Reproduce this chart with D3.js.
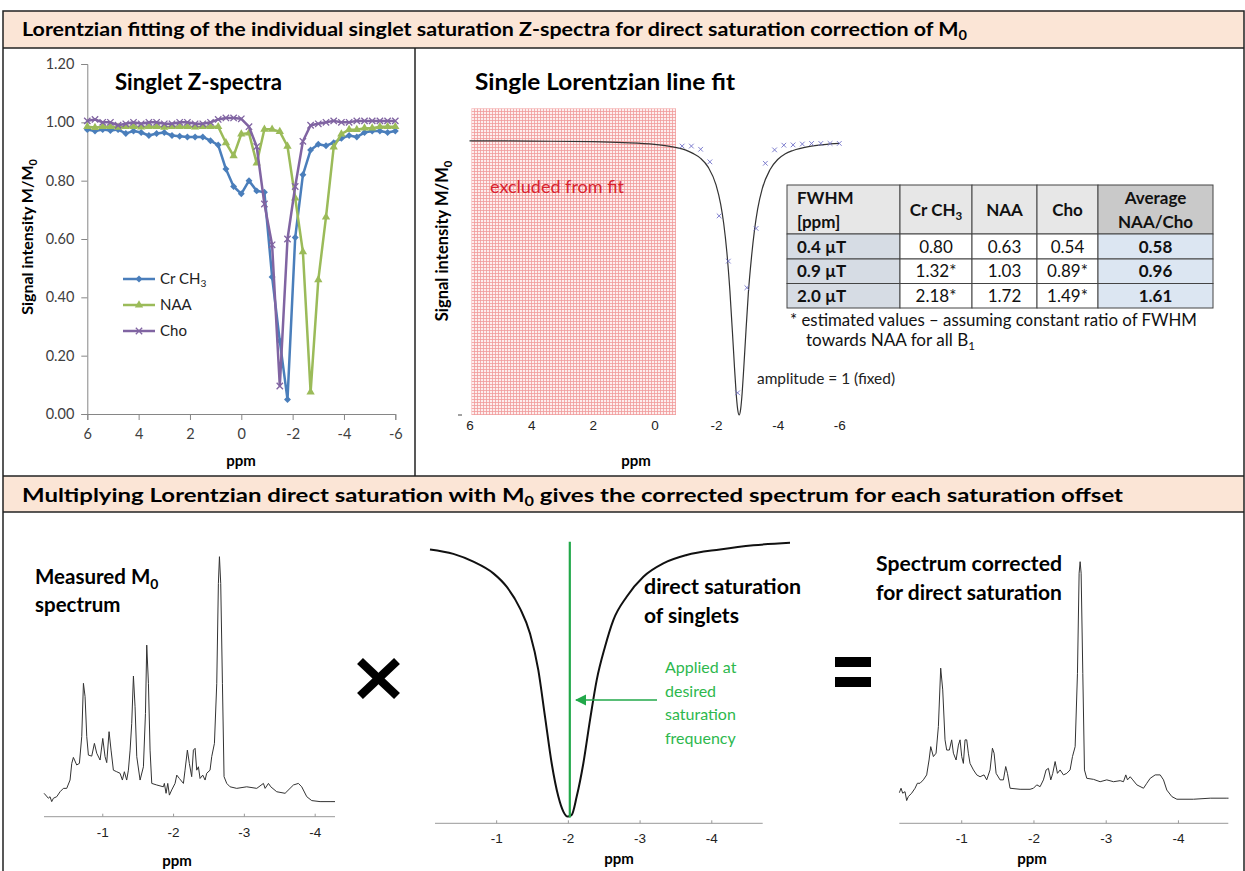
<!DOCTYPE html>
<html><head><meta charset="utf-8">
<script src="https://cdn.jsdelivr.net/npm/d3@7"></script>
<style>body{margin:0;background:#fff}svg{display:block}</style>
</head><body>
<svg id="c" width="1245" height="871"></svg>
<script>
// ---------- DATA ----------
const zPpm = [6,5.7,5.4,5.1,4.8,4.5,4.2,3.9,3.6,3.3,3,2.7,2.4,2.1,1.8,1.5,1.2,0.9,0.6,0.3,0,-0.3,-0.6,-0.9,-1.2,-1.5,-1.8,-2.1,-2.4,-2.7,-3,-3.3,-3.6,-3.9,-4.2,-4.5,-4.8,-5.1,-5.4,-5.7,-6];
const crValues = [0.975,0.970,0.975,0.972,0.975,0.962,0.970,0.965,0.955,0.962,0.965,0.955,0.952,0.950,0.950,0.950,0.937,0.922,0.84,0.78,0.755,0.80,0.765,0.76,0.47,0.25,0.05,0.605,0.82,0.905,0.925,0.92,0.93,0.945,0.955,0.95,0.965,0.97,0.97,0.965,0.97];
const naaValues = [0.985,0.982,0.985,0.985,0.983,0.985,0.985,0.984,0.985,0.985,0.983,0.985,0.985,0.985,0.984,0.985,0.985,0.985,0.93,0.885,0.96,0.963,0.86,0.976,0.976,0.968,0.918,0.74,0.556,0.075,0.46,0.675,0.915,0.96,0.975,0.975,0.98,0.98,0.985,0.985,0.985];
const choValues = [1.005,1.01,1.0,1.0,0.99,0.995,1.0,0.995,1.0,1.0,0.995,0.995,1.0,1.0,0.995,0.995,1.0,1.01,1.015,1.015,1.012,0.985,0.917,0.72,0.58,0.096,0.60,0.78,0.935,0.99,0.995,1.0,1.005,1.0,1.0,1.005,1.005,1.005,1.005,1.005,1.005];
const zYTicks = [0,0.2,0.4,0.6,0.8,1.0,1.2];
const zXTicks = [6,4,2,0,-2,-4,-6];
const legendNames = ["Cr CH3","NAA","Cho"];

// single Lorentzian fit
const fitPpm = [6,4,2,1,0,-0.5,-1,-1.25,-1.5,-1.75,-2,-2.15,-2.25,-2.35,-2.45,-2.55,-2.6,-2.65,-2.7,-2.75,-2.8,-2.85,-2.9,-2.95,-3.05,-3.15,-3.25,-3.35,-3.5,-3.75,-4,-4.25,-4.5,-5,-5.5,-6];
const fitVal = [0.939,0.938,0.936,0.933,0.927,0.920,0.908,0.896,0.879,0.848,0.788,0.722,0.655,0.559,0.425,0.252,0.161,0.079,0.021,0,0.021,0.079,0.161,0.25,0.42,0.54,0.635,0.705,0.775,0.84,0.875,0.895,0.906,0.919,0.926,0.93];
const fitDataPpm = [-0.9,-1.2,-1.5,-1.8,-2.1,-2.4,-2.7,-3.0,-3.3,-3.6,-3.9,-4.2,-4.5,-4.8,-5.1,-5.4,-5.7,-6.0];
const fitDataVal = [0.921,0.921,0.91,0.867,0.682,0.527,0.076,0.436,0.639,0.862,0.908,0.924,0.925,0.928,0.93,0.93,0.93,0.93];
const excludedRange = [6, -0.7];

// FWHM table
const tableCols = ["FWHM [ppm]","Cr CH3","NAA","Cho","Average NAA/Cho"];
const rowLabels = ["0.4 µT","0.9 µT","2.0 µT"];
const crFwhm = ["0.80","1.32*","2.18*"];
const naaFwhm = ["0.63","1.03","1.72"];
const choFwhm = ["0.54","0.89*","1.49*"];
const avgFwhm = ["0.58","0.96","1.61"];

// measured M0 spectrum
const m0Ppm = [-0.171,-0.232,-0.255,-0.279,-0.303,-0.350,-0.397,-0.444,-0.491,-0.538,-0.562,-0.585,-0.632,-0.670,-0.703,-0.727,-0.750,-0.774,-0.797,-0.844,-0.882,-0.915,-0.962,-1.000,-1.032,-1.056,-1.089,-1.117,-1.150,-1.197,-1.244,-1.277,-1.305,-1.338,-1.362,-1.386,-1.409,-1.433,-1.456,-1.480,-1.527,-1.574,-1.603,-1.621,-1.645,-1.668,-1.692,-1.762,-1.856,-1.870,-1.894,-1.918,-1.941,-1.974,-2.021,-2.045,-2.082,-2.139,-2.162,-2.195,-2.223,-2.256,-2.280,-2.304,-2.327,-2.351,-2.374,-2.412,-2.445,-2.468,-2.515,-2.539,-2.577,-2.610,-2.633,-2.648,-2.666,-2.690,-2.713,-2.751,-2.798,-2.892,-3.033,-3.175,-3.269,-3.293,-3.340,-3.373,-3.457,-3.575,-3.645,-3.693,-3.763,-3.810,-3.881,-3.951,-4.069,-4.210,-4.28];
const m0Int = [0.090,0.071,0.077,0.058,0.071,0.077,0.096,0.109,0.109,0.141,0.205,0.228,0.199,0.205,0.308,0.513,0.462,0.308,0.237,0.233,0.282,0.244,0.218,0.301,0.231,0.208,0.327,0.256,0.179,0.173,0.167,0.141,0.173,0.141,0.179,0.256,0.359,0.541,0.423,0.231,0.141,0.192,0.397,0.660,0.513,0.256,0.128,0.122,0.115,0.128,0.090,0.128,0.083,0.103,0.128,0.160,0.147,0.128,0.179,0.256,0.205,0.154,0.256,0.263,0.179,0.192,0.147,0.160,0.141,0.167,0.179,0.231,0.282,0.513,0.897,1.000,0.897,0.513,0.154,0.128,0.115,0.109,0.115,0.109,0.128,0.109,0.128,0.115,0.096,0.090,0.109,0.122,0.128,0.115,0.077,0.062,0.058,0.058,0.058];

// direct saturation Lorentzian
const dsPpm = [-0.070,-0.396,-0.675,-0.954,-1.139,-1.325,-1.465,-1.581,-1.674,-1.767,-1.860,-1.930,-1.990,-2.046,-2.116,-2.209,-2.302,-2.395,-2.511,-2.627,-2.813,-3.046,-3.324,-3.650,-4.115,-4.580,-5.091];
const dsVal = [0.966,0.950,0.922,0.880,0.832,0.754,0.664,0.532,0.365,0.197,0.077,0.023,0.005,0.011,0.077,0.197,0.353,0.496,0.616,0.712,0.796,0.868,0.916,0.946,0.966,0.981,0.990];
const satOffset = -2.02;

// corrected spectrum
const corrPpm = [-0.137,-0.160,-0.183,-0.215,-0.238,-0.261,-0.307,-0.354,-0.386,-0.423,-0.469,-0.515,-0.548,-0.571,-0.608,-0.645,-0.677,-0.709,-0.737,-0.769,-0.792,-0.829,-0.861,-0.885,-0.922,-0.954,-0.977,-1.000,-1.023,-1.046,-1.069,-1.092,-1.115,-1.162,-1.208,-1.254,-1.309,-1.346,-1.392,-1.425,-1.448,-1.476,-1.531,-1.577,-1.609,-1.633,-1.669,-1.808,-1.946,-1.993,-2.039,-2.085,-2.131,-2.168,-2.200,-2.233,-2.260,-2.293,-2.325,-2.362,-2.408,-2.454,-2.500,-2.533,-2.570,-2.602,-2.625,-2.639,-2.653,-2.676,-2.699,-2.731,-2.824,-2.916,-3.008,-3.101,-3.193,-3.239,-3.271,-3.295,-3.332,-3.368,-3.424,-3.516,-3.562,-3.609,-3.678,-3.747,-3.793,-3.839,-3.909,-3.978,-4.209,-4.440,-4.670,-4.693];
const corrInt = [0.117,0.134,0.115,0.121,0.087,0.102,0.115,0.134,0.153,0.153,0.166,0.185,0.242,0.293,0.255,0.268,0.370,0.593,0.510,0.319,0.280,0.280,0.319,0.268,0.242,0.299,0.319,0.255,0.229,0.319,0.319,0.268,0.229,0.204,0.185,0.178,0.185,0.166,0.204,0.287,0.268,0.191,0.166,0.166,0.217,0.191,0.134,0.130,0.130,0.134,0.147,0.140,0.166,0.204,0.210,0.166,0.191,0.236,0.191,0.204,0.185,0.191,0.204,0.255,0.293,0.573,0.956,1.000,0.956,0.573,0.204,0.172,0.168,0.159,0.166,0.159,0.163,0.159,0.185,0.166,0.178,0.166,0.147,0.134,0.153,0.172,0.185,0.185,0.166,0.127,0.102,0.092,0.092,0.096,0.096,0.096];
const specTicks = [-1,-2,-3,-4];

// ---------- DRAWING ----------
const svg = d3.select("#c");
const CAL = "Lato, 'Open Sans', sans-serif";
const ARI = "'Liberation Sans', Arial, sans-serif";

function rich(sel, parts, fs) {
  let shift = 0;
  parts.forEach(p => {
    const sub = Array.isArray(p);
    const ts = sel.append("tspan").text(sub ? p[0] : p);
    if (sub) { shift = fs * 0.22; ts.attr("font-size", fs * 0.68).attr("dy", shift); }
    else if (shift) { ts.attr("dy", -shift); shift = 0; }
  });
  return sel;
}
function label(x, y, parts, o = {}) {
  const fs = o.size || 14;
  const t = svg.append("text").attr("x", x).attr("y", y)
    .attr("font-family", o.font || CAL).attr("font-size", fs)
    .attr("font-weight", o.bold ? "bold" : "normal")
    .attr("fill", o.color || "#000")
    .attr("text-anchor", o.anchor || "start");
  if (o.rotate) t.attr("transform", `rotate(-90,${x},${y})`);
  if (o.len) t.attr("textLength", o.len).attr("lengthAdjust", "spacingAndGlyphs");
  rich(t, typeof parts === "string" ? [parts] : parts, fs);
  return t;
}
function subParts(s) {
  if (s === "Cr CH3") return ["Cr CH", ["3"]];
  return [s];
}

// ---- frames ----
svg.append("rect").attr("x", 3).attr("y", 11).attr("width", 1241).attr("height", 37).attr("fill", "#fbe5d6");
svg.append("rect").attr("x", 3).attr("y", 476).attr("width", 1241).attr("height", 36).attr("fill", "#fbe5d6");
const frame = svg.append("g").attr("stroke", "#222").attr("stroke-width", 1.5).attr("fill", "none");
frame.append("rect").attr("x", 3).attr("y", 11).attr("width", 1241).attr("height", 870);
frame.append("line").attr("x1", 3).attr("x2", 1244).attr("y1", 48).attr("y2", 48);
frame.append("line").attr("x1", 3).attr("x2", 1244).attr("y1", 476).attr("y2", 476);
frame.append("line").attr("x1", 3).attr("x2", 1244).attr("y1", 512).attr("y2", 512);
frame.append("line").attr("x1", 415).attr("x2", 415).attr("y1", 48).attr("y2", 476);

label(22, 36, ["Lorentzian fitting of the individual singlet saturation Z-spectra for direct saturation correction of M", ["0"]], {size: 19, bold: true, len: 945});
label(22, 502, ["Multiplying Lorentzian direct saturation with M", ["0"], " gives the corrected spectrum for each saturation offset"], {size: 19, bold: true, len: 1101});

// ---- Panel 1: Singlet Z-spectra ----
const xZ = d3.scaleLinear().domain([6, -6]).range([87.3, 395.3]);
const yZ = d3.scaleLinear().domain([0, 1.2]).range([414, 64]);
const gZx = svg.append("g").attr("transform", "translate(0,414)")
  .call(d3.axisBottom(xZ).tickValues(zXTicks).tickFormat(d => String(d)).tickSize(6).tickPadding(9));
const gZy = svg.append("g").attr("transform", "translate(87.3,0)")
  .call(d3.axisLeft(yZ).tickValues(zYTicks).tickFormat(d3.format(".2f")).tickSize(6).tickPadding(7));
[gZx, gZy].forEach(g => {
  g.selectAll("path,line").attr("stroke", "#868686");
  g.selectAll("text").attr("font-family", CAL).attr("font-size", 14.5).attr("fill", "#404040");
});
label(115, 90, "Singlet Z-spectra", {size: 22, bold: true, len: 167});
label(33, 237, ["Signal intensity M/M", ["0"]], {size: 16, bold: true, anchor: "middle", rotate: true});
label(241, 466, "ppm", {size: 15, bold: true, anchor: "middle"});

const series = [
  {name: legendNames[0], values: crValues, color: "#4a7ebb", sym: "diamond"},
  {name: legendNames[1], values: naaValues, color: "#9bbb59", sym: "triangle"},
  {name: legendNames[2], values: choValues, color: "#8064a2", sym: "x"}
];
function marker(g, sym, color, x, y) {
  if (sym === "diamond") g.append("path").attr("d", d3.symbol(d3.symbolSquare, 24)()).attr("transform", `translate(${x},${y}) rotate(45)`).attr("fill", color);
  else if (sym === "triangle") g.append("path").attr("d", d3.symbol(d3.symbolTriangle, 30)()).attr("transform", `translate(${x},${y})`).attr("fill", color);
  else g.append("path").attr("d", d3.symbol(d3.symbolX, 28)()).attr("transform", `translate(${x},${y})`).attr("fill", "none").attr("stroke", color).attr("stroke-width", 1.3);
}
const zLine = d3.line().x((d, i) => xZ(zPpm[i])).y(d => yZ(d));
series.forEach(s => {
  const g = svg.append("g");
  g.append("path").attr("d", zLine(s.values)).attr("fill", "none").attr("stroke", s.color).attr("stroke-width", 2.5).attr("stroke-linejoin", "round");
  s.values.forEach((v, i) => marker(g, s.sym, s.color, xZ(zPpm[i]), yZ(v)));
});
series.forEach((s, k) => {
  const y = 279 + k * 26;
  const g = svg.append("g");
  g.append("line").attr("x1", 123).attr("x2", 155).attr("y1", y).attr("y2", y).attr("stroke", s.color).attr("stroke-width", 2.5);
  marker(g, s.sym, s.color, 139, y);
  label(160, y + 5, subParts(s.name), {size: 15, color: "#222"});
});

// ---- Panel 2: Single Lorentzian line fit ----
const xF = d3.scaleLinear().domain([6, -6]).range([469.5, 839.3]);
const yF = d3.scaleLinear().domain([0, 1]).range([415, 123]);
const defs = svg.append("defs");
const pat = defs.append("pattern").attr("id", "hatch").attr("patternUnits", "userSpaceOnUse").attr("width", 3).attr("height", 3);
pat.append("rect").attr("width", 3).attr("height", 3).attr("fill", "#fdeeee");
pat.append("path").attr("d", "M0,0.5H3M0.5,0V3").attr("stroke", "#f09a9a").attr("stroke-width", 0.8);
svg.append("rect").attr("x", xF(excludedRange[0]) + 2).attr("y", yF(1.05))
  .attr("width", xF(excludedRange[1]) - xF(excludedRange[0]) - 2).attr("height", yF(0) - yF(1.05))
  .attr("fill", "url(#hatch)");
label(490, 193, "excluded from fit", {size: 18, color: "#d8232e"});
const gFx = svg.append("g").attr("transform", "translate(0,415)")
  .call(d3.axisBottom(xF).tickValues(zXTicks).tickFormat(d => String(d)).tickSize(0).tickPadding(5));
gFx.select(".domain").remove();
gFx.selectAll("text").attr("font-family", ARI).attr("font-size", 13.5).attr("fill", "#222");
svg.append("line").attr("x1", 458).attr("x2", 462).attr("y1", yF(0)).attr("y2", yF(0)).attr("stroke", "#444");
svg.append("path").datum(fitVal).attr("fill", "none").attr("stroke", "#333").attr("stroke-width", 1.2)
  .attr("d", d3.line().x((d, i) => xF(fitPpm[i])).y(d => yF(d)).curve(d3.curveMonotoneX));
fitDataVal.forEach((v, i) => {
  svg.append("path").attr("d", d3.symbol(d3.symbolX, 16)()).attr("transform", `translate(${xF(fitDataPpm[i])},${yF(v)})`)
    .attr("fill", "none").attr("stroke", "#7070c8").attr("stroke-width", 0.9);
});
label(475, 90, "Single Lorentzian line fit", {size: 22, bold: true, len: 260});
label(448, 241, ["Signal intensity M/M", ["0"]], {size: 16.5, bold: true, anchor: "middle", rotate: true});
label(636, 466, "ppm", {size: 15, bold: true, anchor: "middle"});
label(757, 384, "amplitude = 1 (fixed)", {size: 15, color: "#222", len: 138});

// table
const colX = [787, 900, 972, 1037, 1098, 1213];
const rowY = [185, 234, 259, 283.5, 308];
const tbl = svg.append("g");
const colData = [rowLabels, crFwhm, naaFwhm, choFwhm, avgFwhm];
for (let c = 0; c < 5; c++) {
  for (let r = 0; r < 4; r++) {
    let fill = "#fff";
    if (r === 0) fill = c === 4 ? "#c9c9c9" : "#e7e7e7";
    else if (c === 0) fill = "#d6dce4";
    else if (c === 4) fill = "#dce6f2";
    tbl.append("rect").attr("x", colX[c]).attr("y", rowY[r]).attr("width", colX[c + 1] - colX[c]).attr("height", rowY[r + 1] - rowY[r])
      .attr("fill", fill).attr("stroke", "#444").attr("stroke-width", 1);
  }
}
tableCols.forEach((name, c) => {
  const cx = (colX[c] + colX[c + 1]) / 2;
  if (c === 0) {
    const w = name.split(" ");
    label(797, 204, w[0], {size: 17, bold: true, color: "#111"});
    label(797, 228, w[1], {size: 17, bold: true, color: "#111"});
  } else if (c === 4) {
    const w = name.split(" ");
    label(cx, 204, w[0], {size: 17, bold: true, anchor: "middle", color: "#111"});
    label(cx, 228, w[1], {size: 17, bold: true, anchor: "middle", color: "#111"});
  } else {
    label(cx, 216, subParts(name), {size: 17, bold: true, anchor: "middle", color: "#111"});
  }
});
colData.forEach((col, c) => {
  col.forEach((v, r) => {
    const y = (rowY[r + 1] + rowY[r + 2]) / 2 + 6;
    if (c === 0) label(797, y, v, {size: 17, bold: true, color: "#111"});
    else label((colX[c] + colX[c + 1]) / 2, y, v, {size: 17, bold: c === 4, anchor: "middle", color: "#111"});
  });
});
label(790, 326, "* estimated values – assuming constant ratio of FWHM", {size: 16.5, color: "#111", len: 407});
label(806, 346, ["towards NAA for all B", ["1"]], {size: 16.5, color: "#111", len: 169});

// ---- bottom panel ----
function specAxis(x, y0, x0, x1) {
  const g = svg.append("g");
  g.append("line").attr("x1", x0).attr("x2", x1).attr("y1", y0).attr("y2", y0).attr("stroke", "#999");
  specTicks.forEach(t => {
    g.append("line").attr("x1", x(t)).attr("x2", x(t)).attr("y1", y0).attr("y2", y0 - 3).attr("stroke", "#999");
    g.append("text").attr("x", x(t)).attr("y", y0 + 20).attr("text-anchor", "middle")
      .attr("font-family", ARI).attr("font-size", 13.5).attr("fill", "#222").text(String(t));
  });
}
// measured M0
const xM = d3.scaleLinear().domain([-0.17, -4.28]).range([44, 335]);
const yM = d3.scaleLinear().domain([0, 1]).range([816.7, 556.7]);
specAxis(xM, 816.7, 44, 335);
svg.append("path").datum(m0Int).attr("fill", "none").attr("stroke", "#333").attr("stroke-width", 1)
  .attr("d", d3.line().x((d, i) => xM(m0Ppm[i])).y(d => yM(d)));
label(35, 584, ["Measured M", ["0"]], {size: 20.5, bold: true});
label(35, 612, "spectrum", {size: 20.5, bold: true});
label(177, 866, "ppm", {size: 15, bold: true, anchor: "middle"});

// multiply sign
svg.append("g").attr("stroke", "#000").attr("stroke-width", 8.5)
  .selectAll("line").data([[360, 661, 397, 696], [397, 661, 360, 696]]).join("line")
  .attr("x1", d => d[0]).attr("y1", d => d[1]).attr("x2", d => d[2]).attr("y2", d => d[3]);

// direct saturation
const xL = d3.scaleLinear().domain([-0.14, -4.71]).range([435, 762.7]);
const yL = d3.scaleLinear().domain([0, 1]).range([818, 540]);
specAxis(xL, 823.3, 435, 762.7);
svg.append("path").datum(dsVal).attr("fill", "none").attr("stroke", "#111").attr("stroke-width", 2)
  .attr("d", d3.line().x((d, i) => xL(dsPpm[i])).y(d => yL(d)).curve(d3.curveMonotoneX));
svg.append("line").attr("x1", xL(satOffset)).attr("x2", xL(satOffset)).attr("y1", 541.7).attr("y2", 817.5)
  .attr("stroke", "#22a84a").attr("stroke-width", 2.2);
defs.append("marker").attr("id", "arr").attr("viewBox", "0 0 10 10").attr("refX", 9).attr("refY", 5)
  .attr("markerWidth", 7).attr("markerHeight", 7).attr("orient", "auto-start-reverse")
  .append("path").attr("d", "M0,0L10,5L0,10z").attr("fill", "#22a84a");
svg.append("line").attr("x1", 657).attr("x2", 576).attr("y1", 700).attr("y2", 700)
  .attr("stroke", "#22a84a").attr("stroke-width", 1.6).attr("marker-end", "url(#arr)");
["Applied at", "desired", "saturation", "frequency"].forEach((t, i) =>
  label(665, 673 + i * 23.7, t, {size: 16, color: "#2db84d"}));
label(644, 594, "direct saturation", {size: 21, bold: true, len: 157});
label(644, 623, "of singlets", {size: 21, bold: true});
label(619, 864, "ppm", {size: 15, bold: true, anchor: "middle"});

// equals sign
svg.append("g").attr("fill", "#000").selectAll("rect").data([657, 677]).join("rect")
  .attr("x", 835).attr("y", d => d).attr("width", 36).attr("height", 10);

// corrected spectrum
const xC = d3.scaleLinear().domain([-0.136, -4.69]).range([899.3, 1228.3]);
const yC = d3.scaleLinear().domain([0, 1]).range([823.3, 561.7]);
specAxis(xC, 823.3, 899.3, 1228.3);
svg.append("path").datum(corrInt).attr("fill", "none").attr("stroke", "#333").attr("stroke-width", 1)
  .attr("d", d3.line().x((d, i) => xC(corrPpm[i])).y(d => yC(d)));
label(876, 571, "Spectrum corrected", {size: 21, bold: true, len: 186});
label(876, 600, "for direct saturation", {size: 21, bold: true});
label(1032, 864, "ppm", {size: 15, bold: true, anchor: "middle"});
</script></body></html>
